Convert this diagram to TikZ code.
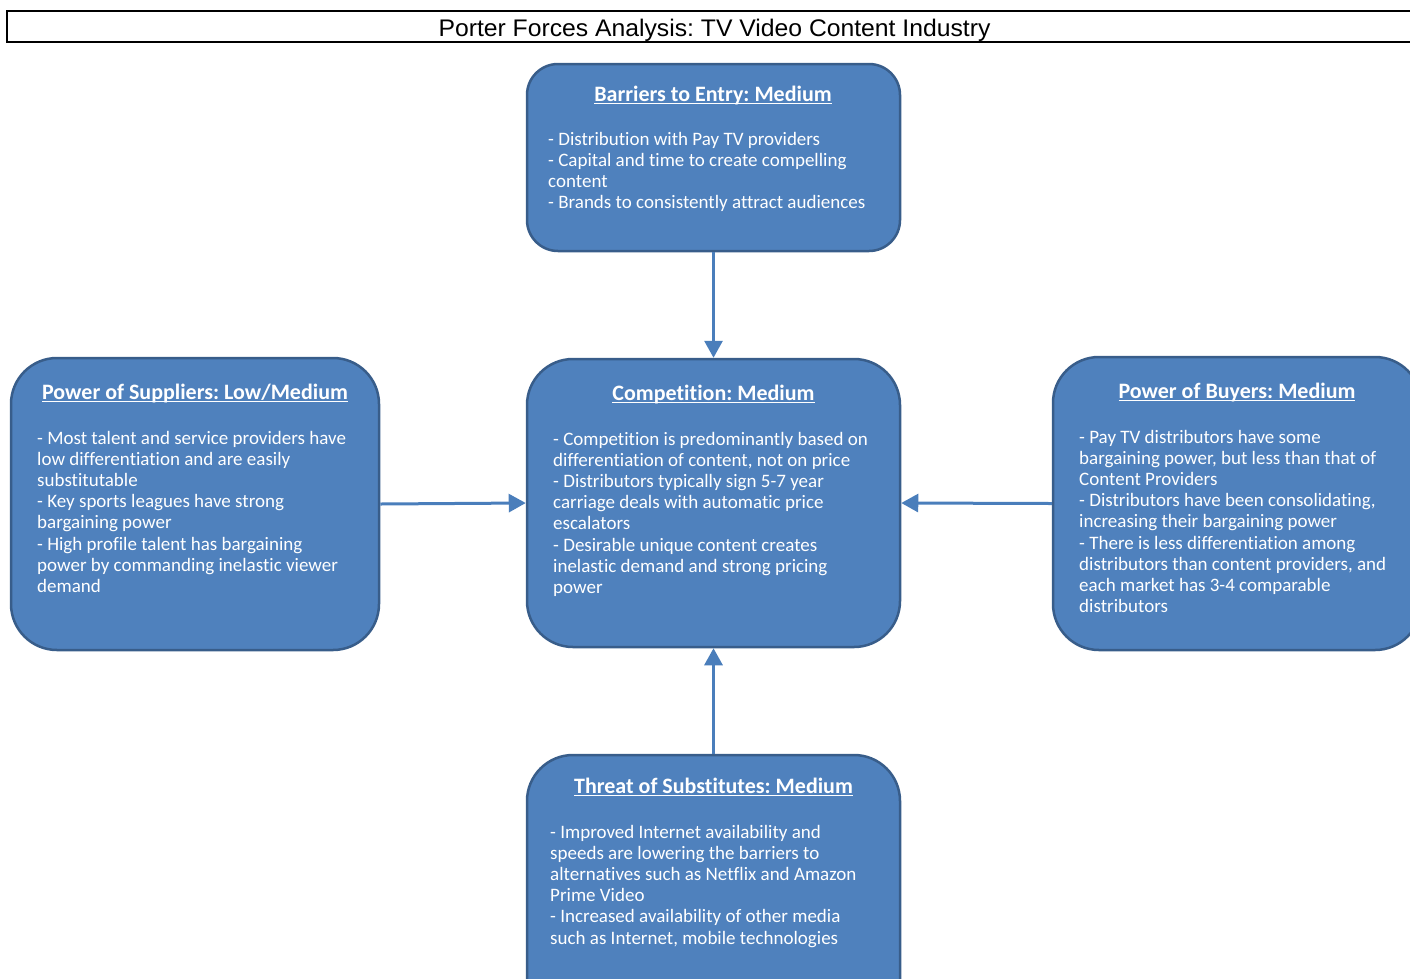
\documentclass[tikz,border=0pt]{standalone}
\usepackage{fontspec}
\setmainfont{Carlito}[Ligatures=NoCommon]
\newfontfamily\titlefont{Liberation Sans}
\usetikzlibrary{arrows.meta}
\definecolor{boxfill}{HTML}{4F81BD}
\definecolor{boxline}{HTML}{385D8A}
\definecolor{arrowc}{HTML}{4A7EBB}
\frenchspacing
\newcommand\hdul[1]{\setbox0\hbox{#1}\rlap{\rule[-3pt]{\wd0}{1.3pt}}\box0}
\newcommand\bodylines[1]{\begin{tabular}[t]{@{}l@{}}#1\end{tabular}}
\tikzset{
  forcebox/.style={draw=boxline, fill=boxfill, line width=2.5pt, inner sep=0pt},
  heading/.style={anchor=base, inner sep=0pt, text=white, font=\fontsize{22}{26}\selectfont\bfseries},
  bodytext/.style={anchor=base west, inner sep=0pt, text=white, font=\fontsize{19}{21.2}\selectfont},
  force/.style={draw=arrowc, line width=3pt, -{Triangle[length=17pt,width=18pt]}}
}
\begin{document}
\begin{tikzpicture}[x=1pt,y=-1pt]
\useasboundingbox (0,0) rectangle (1410,978);
% title bar
\draw[line width=1.3pt] (1425,11) -- (7,11) -- (7,42) -- (1425,42);
\node[anchor=base, inner sep=0pt, font=\titlefont\fontsize{24}{28}\selectfont] (title) at (714.5,36) {\scalebox{1.03}[1]{Porter Forces Analysis: TV Video Content Industry}};
% boxes
\node[forcebox, rounded corners=31pt, minimum width=373pt, minimum height=187pt] (entry) at (713.5,157.5) {};
\node[forcebox, rounded corners=46pt, minimum width=373pt, minimum height=288pt] (comp) at (713.5,503) {};
\node[forcebox, rounded corners=46pt, minimum width=368pt, minimum height=292pt] (supp) at (195,504) {};
\node[forcebox, rounded corners=46pt, minimum width=368pt, minimum height=293pt] (buy) at (1237,503.5) {};
\node[forcebox, rounded corners=46pt, minimum width=373pt, minimum height=290pt] (subs) at (713.5,900) {};
% headings
\node[heading] (entryh) at (713,101) {\hdul{Barriers to Entry: Medium}};
\node[heading] (comph) at (713.5,400) {\hdul{Competition: Medium}};
\node[heading] (supph) at (195,399) {\hdul{Power of Suppliers: Low/Medium}};
\node[heading] (buyh) at (1237,398) {\hdul{Power of Buyers: Medium}};
\node[heading] (subsh) at (713.5,793) {\hdul{Threat of Substitutes: Medium}};
% bodies
\node[bodytext] (entryb) at (548,145) {\bodylines{- Distribution with Pay TV providers\\- Capital and time to create compelling\\content\\- Brands to consistently attract audiences}};
\node[bodytext] (compb) at (553,445) {\bodylines{- Competition is predominantly based on\\differentiation of content, not on price\\- Distributors typically sign 5-7 year\\carriage deals with automatic price\\escalators\\- Desirable unique content creates\\inelastic demand and strong pricing\\power}};
\node[bodytext] (suppb) at (37,444) {\bodylines{- Most talent and service providers have\\low differentiation and are easily\\substitutable\\- Key sports leagues have strong\\bargaining power\\- High profile talent has bargaining\\power by commanding inelastic viewer\\demand}};
\node[bodytext] (buyb) at (1079,443) {\bodylines{- Pay TV distributors have some\\bargaining power, but less than that of\\Content Providers\\- Distributors have been consolidating,\\increasing their bargaining power\\- There is less differentiation among\\distributors than content providers, and\\each market has 3-4 comparable\\distributors}};
\node[bodytext] (subsb) at (550,838) {\bodylines{- Improved Internet availability and\\speeds are lowering the barriers to\\alternatives such as Netflix and Amazon\\Prime Video\\- Increased availability of other media\\such as Internet, mobile technologies}};
% arrows
\draw[force] (entry.south) -- (comp.north);
\draw[force] (supp.east) -- (comp.west);
\draw[force] (buy.west) -- (comp.east);
\draw[force] (subs.north) -- (comp.south);
\end{tikzpicture}
\end{document}
